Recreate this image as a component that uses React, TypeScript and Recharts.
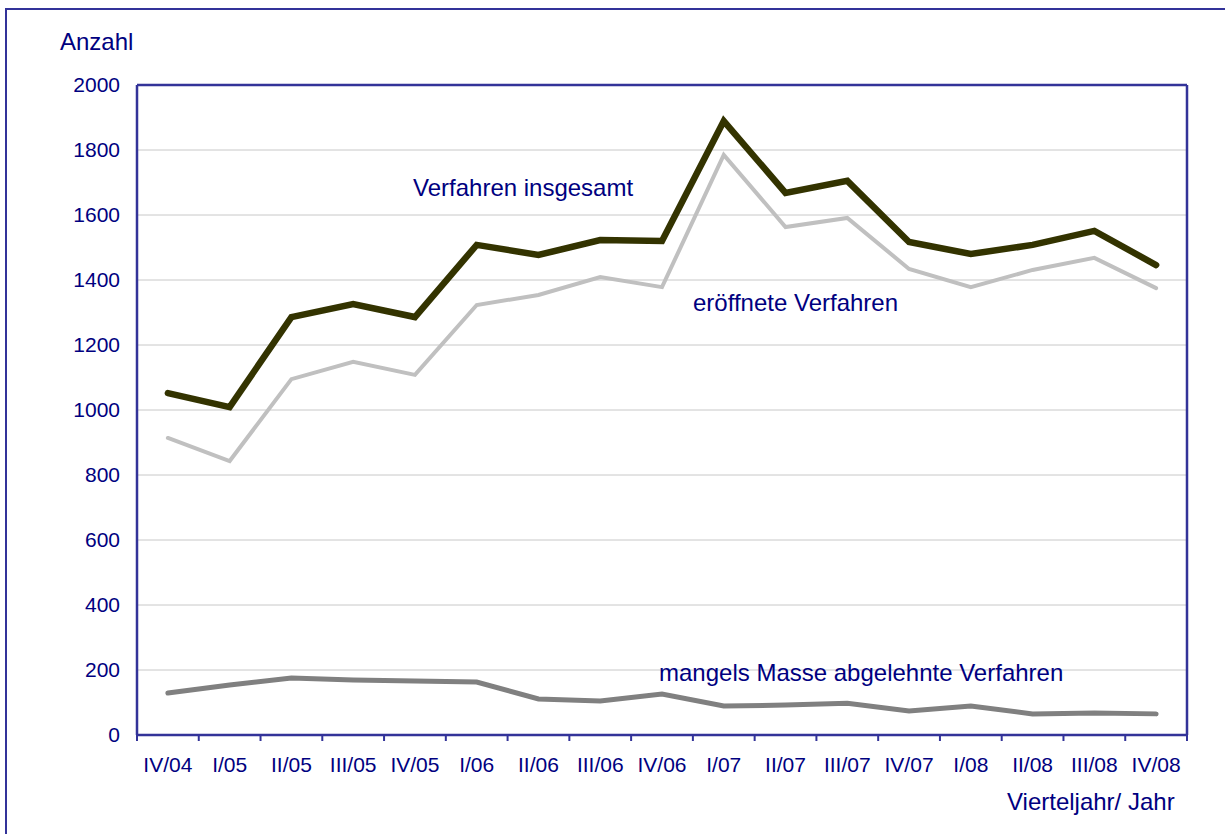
import { LineChart, Line, XAxis, YAxis, CartesianGrid } from 'recharts'

const quarters = ['IV/04', 'I/05', 'II/05', 'III/05', 'IV/05', 'I/06', 'II/06', 'III/06', 'IV/06', 'I/07', 'II/07', 'III/07', 'IV/07', 'I/08', 'II/08', 'III/08', 'IV/08']
const insgesamt = [1052, 1009, 1286, 1326, 1286, 1508, 1477, 1523, 1520, 1889, 1668, 1705, 1517, 1480, 1508, 1551, 1446]
const eroeffnet = [914, 843, 1095, 1148, 1108, 1323, 1354, 1409, 1378, 1785, 1563, 1591, 1434, 1378, 1431, 1468, 1375]
const mangelsMasse = [129, 154, 175, 169, 166, 163, 111, 105, 126, 89, 92, 98, 74, 89, 65, 68, 65]
const yTicks = [0, 200, 400, 600, 800, 1000, 1200, 1400, 1600, 1800, 2000]

const data = quarters.map((q, i) => ({
  q,
  insgesamt: insgesamt[i],
  eroeffnet: eroeffnet[i],
  mangelsMasse: mangelsMasse[i],
}))

const navy = '#000080'
const frame = '#333399'
const font = '"Liberation Sans", Arial, sans-serif'

const label = (left: number, top: number, size = 24): React.CSSProperties => ({
  position: 'absolute',
  left,
  top,
  fontSize: size,
  color: navy,
  fontFamily: font,
  whiteSpace: 'nowrap',
  lineHeight: 1,
})

// quarter label plus tick marks on the band edges
function QuarterTick(props: any) {
  const { x, y, payload, index } = props
  const half = payload?.offset ?? 0
  const axisY = y - 22
  return (
    <g>
      <line x1={x - half} x2={x - half} y1={axisY} y2={axisY + 6} stroke={frame} strokeWidth={2} />
      {index === quarters.length - 1 && (
        <line x1={x + half} x2={x + half} y1={axisY} y2={axisY + 6} stroke={frame} strokeWidth={2} />
      )}
      <text x={x} y={y} dy="0.71em" textAnchor="middle" fill={navy} fontSize={21} fontFamily={font}>
        {payload.value}
      </text>
    </g>
  )
}

const axisStroke = { stroke: frame, strokeWidth: 2.5 }

export default function App() {
  return (
    <div style={{ position: 'relative', width: 1225, height: 834, overflow: 'hidden', background: '#fff' }}>
      <style>{'body{margin:0;overflow:hidden}'}</style>
      <div style={{ position: 'absolute', left: 5, top: 8, width: 1400, height: 1000, border: '2px solid ' + frame }} />
      <LineChart
        width={1225}
        height={834}
        data={data}
        margin={{ top: 84, right: 37, bottom: 59, left: 0 }}
        style={{ position: 'absolute', left: 0, top: 0 }}
      >
        <CartesianGrid vertical={false} stroke="#c8c8c8" strokeWidth={1} />
        <XAxis
          dataKey="q"
          scale="band"
          height={40}
          interval={0}
          tickLine={false}
          axisLine={axisStroke}
          tickSize={0}
          tickMargin={22}
          tick={<QuarterTick />}
        />
        <XAxis xAxisId="top" dataKey="q" scale="band" orientation="top" height={1} tick={false} tickLine={false} axisLine={axisStroke} />
        <YAxis
          width={137}
          domain={[0, 2000]}
          ticks={yTicks}
          interval={0}
          tickLine={false}
          axisLine={axisStroke}
          tickSize={0}
          tickMargin={17}
          tick={{ fill: navy, fontSize: 21, fontFamily: font }}
        />
        <YAxis yAxisId="right" orientation="right" width={1} domain={[0, 2000]} ticks={yTicks} tick={false} tickLine={false} axisLine={axisStroke} />
        <Line xAxisId="top" dataKey="eroeffnet" stroke="#c0c0c0" strokeWidth={4} dot={false} activeDot={false} isAnimationActive={false} strokeLinecap="round" strokeLinejoin="miter" />
        <Line dataKey="insgesamt" stroke="#333300" strokeWidth={6.5} dot={false} activeDot={false} isAnimationActive={false} strokeLinecap="round" strokeLinejoin="miter" />
        <Line yAxisId="right" dataKey="mangelsMasse" stroke="#808080" strokeWidth={5} dot={false} activeDot={false} isAnimationActive={false} strokeLinecap="round" strokeLinejoin="miter" />
      </LineChart>
      <div style={label(60, 30)}>Anzahl</div>
      <div style={label(413, 176)}>Verfahren insgesamt</div>
      <div style={label(693, 291)}>eröffnete Verfahren</div>
      <div style={label(659, 661)}>mangels Masse abgelehnte Verfahren</div>
      <div style={label(1007, 790)}>Vierteljahr/ Jahr</div>
    </div>
  )
}
